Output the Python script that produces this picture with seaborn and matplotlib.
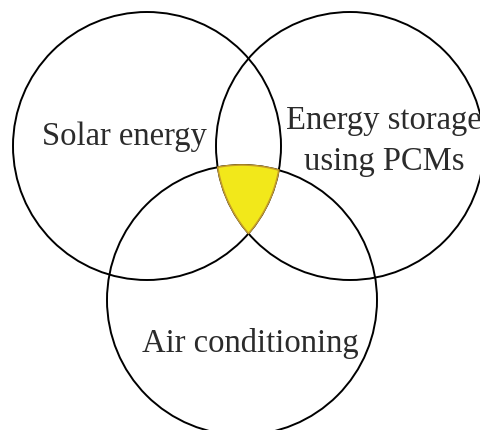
"""Venn diagram: solar energy, PCM energy storage and air conditioning."""
import matplotlib
matplotlib.use("Agg")
import matplotlib.pyplot as plt
import numpy as np
import seaborn as sns
from matplotlib.patches import Circle, Polygon

# sets shown in the diagram
set_names = ["Solar energy", "Energy storage\nusing PCMs", "Air conditioning"]
highlight = "all three"  # the shaded region is the triple overlap

# layout (pixel space of the 481x431 canvas, y pointing down)
centers = [(147, 147), (350, 147), (242, 301)]
radii = [134, 134, 135]
label_pos = [(124, 137), (384, 141), (250, 344)]

sns.set_theme(style="white")
plt.rcParams["font.family"] = ["Liberation Serif", "DejaVu Serif"]

fig = plt.figure(figsize=(4.81, 4.31), dpi=100)
ax = fig.add_axes([0, 0, 1, 1])
ax.set_xlim(0, 481)
ax.set_ylim(431, 0)
ax.set_aspect("equal")
ax.axis("off")

for (cx, cy), r in zip(centers, radii):
    ax.add_patch(Circle((cx, cy), r, fill=False, edgecolor="black",
                        linewidth=1.4, zorder=2))

# triple intersection: boundary points of each circle lying inside the others
pts = []
theta = np.linspace(0, 2 * np.pi, 2000)
for i, ((cx, cy), r) in enumerate(zip(centers, radii)):
    xs = cx + r * np.cos(theta)
    ys = cy + r * np.sin(theta)
    inside = np.ones_like(xs, dtype=bool)
    for j, ((ox, oy), orad) in enumerate(zip(centers, radii)):
        if j != i:
            inside &= (xs - ox) ** 2 + (ys - oy) ** 2 <= orad ** 2 + 1e-6
    pts.extend(zip(xs[inside], ys[inside]))
pts = np.array(pts)
mid = pts.mean(axis=0)
order = np.argsort(np.arctan2(pts[:, 1] - mid[1], pts[:, 0] - mid[0]))
ax.add_patch(Polygon(pts[order], closed=True, facecolor="#f2e81a",
                     edgecolor="#c39b2a", linewidth=1.2, zorder=3))

for name, (x, y) in zip(set_names, label_pos):
    ax.text(x, y, name, ha="center", va="center", fontsize=23.5,
            color="#2b2b2b", linespacing=1.45, zorder=4)

fig.savefig("out.png", dpi=100)
plt.close(fig)
